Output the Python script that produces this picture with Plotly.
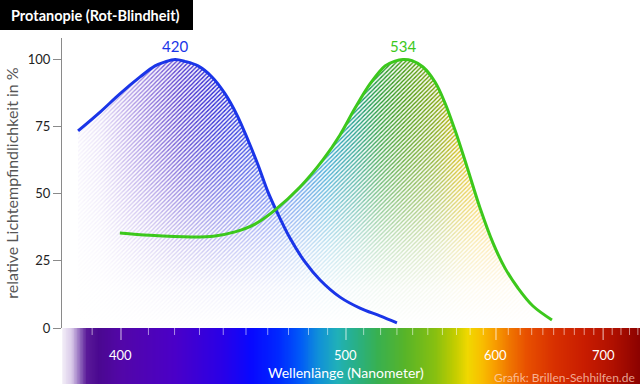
import plotly.graph_objects as go
import numpy as np

# ---- data (wavelength in nm, relative sensitivity in %) ----
blue_wl = [385.3, 392.7, 399.6, 406.9, 412.5, 416.3, 420.2, 424.1, 429.4, 435.2, 440.8, 446.0,
           450.9, 455.5, 460.1, 464.4, 470.7, 478.2, 486.0, 496.7, 507.9, 519.6, 530.0]
blue_val = [73.4, 80.4, 87.2, 93.5, 97.6, 99.1, 100.0, 99.3, 97.6, 93.5, 87.2, 79.3,
            70.0, 60.7, 50.7, 43.2, 33.5, 24.6, 17.9, 11.5, 7.4, 4.5, 1.9]
green_wl = [399.6, 410.6, 427.4, 436.5, 445.1, 454.1, 463.4, 475.7, 487.5, 496.7, 505.1, 513.7,
            522.7, 528.8, 533.8, 539.6, 546.8, 554.9, 561.8, 568.9, 577.7, 587.5, 597.6, 607.3,
            618.1, 631.1, 648.4]
green_val = [35.4, 34.5, 33.9, 34.3, 35.8, 38.7, 43.9, 52.5, 62.6, 71.9, 81.9, 90.9,
             97.6, 99.4, 100.0, 99.6, 97.2, 91.6, 83.8, 73.7, 60.0, 44.7, 31.7, 22.3,
             14.9, 8.2, 3.0]
peak_wl = [420, 534]
peak_text = ["420", "534"]
y_ticks = [0, 25, 50, 75, 100]
x_tick_labels = [400, 500, 600, 700]
x_minor = list(range(390, 750, 10))

title_text = "Protanopie (Rot-Blindheit)"
y_title = "relative Lichtempfindlichkeit in %"
x_title = "Wellenlänge (Nanometer)"
credit = "Grafik: Brillen-Sehhilfen.de"

# spectrum colours (style)
spec_stops = [(378, "#ffffff"), (380, "#f4f0f8"), (383, "#d8c8e8"), (386, "#8a60b8"), (388, "#5a1a98"),
              (392, "#4a0890"), (400, "#5206a8"), (420, "#4a00c8"), (440, "#2800e8"), (452, "#0808ff"),
              (465, "#0028ff"), (475, "#0058f8"), (485, "#1090d8"), (495, "#20b0b8"), (505, "#28b088"),
              (518, "#38b050"), (535, "#58b428"), (555, "#88c010"), (568, "#c0cc00"), (578, "#f0d800"),
              (588, "#f8c000"), (598, "#f8a000"), (610, "#f07800"), (625, "#e85000"), (650, "#d83000"),
              (680, "#c81c00"), (710, "#b01000"), (745, "#880000")]
fill_stops = [(380, "#6a38d0"), (400, "#5a28c8"), (420, "#4828c8"), (440, "#3030d8"), (460, "#2444e8"),
              (475, "#1c6ce0"), (490, "#1496c8"), (505, "#1c9c88"), (520, "#2c9c38"), (535, "#4c9c18"),
              (555, "#7ca410"), (570, "#c8b400"), (585, "#f0bc00"), (600, "#f8b400"), (620, "#f8c040"),
              (650, "#f8d060")]


def T(wl):
    # wavelength -> negative wavenumber (cm^-1): the axis is linear in wavenumber
    return -1e7 / np.asarray(wl, dtype=float)


x_lo, x_hi = 380.07, 742.6
fig = go.Figure()

# spectrum strip
spec_wl = np.arange(378, 746, 0.5)
lo, hi = spec_stops[0][0], spec_stops[-1][0]
spec_cs = [[(w - lo) / (hi - lo), c] for w, c in spec_stops]
fig.add_trace(go.Heatmap(x=T(spec_wl), y=[0, 1], z=[spec_wl, spec_wl], colorscale=spec_cs,
                         zmin=lo, zmax=hi, showscale=False, xaxis="x2", yaxis="y2", hoverinfo="skip",
                         zsmooth="best"))

# gradient fills
f0, f1 = T(fill_stops[0][0]), T(fill_stops[-1][0])
fill_cs = [[float((T(w) - f0) / (f1 - f0)), c] for w, c in fill_stops]
for wl, val in [(blue_wl, blue_val), (green_wl, green_val)]:
    fig.add_trace(go.Scatter(x=T(wl), y=val, mode="lines", line=dict(width=0, shape="spline"),
                             fill="tozeroy",
                             fillgradient=dict(type="horizontal", colorscale=fill_cs,
                                               start=float(f0), stop=float(f1)),
                             hoverinfo="skip", showlegend=False))

# white fades
fig.add_trace(go.Scatter(x=T([x_lo, x_hi]), y=[101, 101], mode="lines", line=dict(width=0),
                         fill="tozeroy",
                         fillgradient=dict(type="vertical", start=0, stop=101,
                                           colorscale=[[0, "rgba(255,255,255,1)"], [0.15, "rgba(255,255,255,0.93)"],
                                                       [0.3, "rgba(255,255,255,0.74)"], [0.45, "rgba(255,255,255,0.48)"],
                                                       [0.6, "rgba(255,255,255,0.24)"], [0.72, "rgba(255,255,255,0.1)"],
                                                       [0.85, "rgba(255,255,255,0)"], [1, "rgba(255,255,255,0)"]]),
                         hoverinfo="skip", showlegend=False))
fig.add_trace(go.Scatter(x=T([x_lo, 435]), y=[101, 101], mode="lines", line=dict(width=0),
                         fill="tozeroy",
                         fillgradient=dict(type="horizontal", start=float(T(x_lo)), stop=float(T(435)),
                                           colorscale=[[0, "rgba(255,255,255,1)"], [0.25, "rgba(255,255,255,0.85)"],
                                                       [0.55, "rgba(255,255,255,0.45)"], [0.8, "rgba(255,255,255,0.12)"],
                                                       [1, "rgba(255,255,255,0)"]]),
                         hoverinfo="skip", showlegend=False))
# hatching
fig.add_trace(go.Scatter(x=T([x_lo, x_hi]), y=[101, 101], mode="lines", line=dict(width=0),
                         fill="tozeroy", fillcolor="rgba(0,0,0,0)",
                         fillpattern=dict(shape="/", fgcolor="white", bgcolor="rgba(0,0,0,0)",
                                          size=3, solidity=0.5, fillmode="replace"),
                         hoverinfo="skip", showlegend=False))

# curves
fig.add_trace(go.Scatter(x=T(blue_wl), y=blue_val, mode="lines",
                         line=dict(color="#1a35e8", width=3, shape="spline"), showlegend=False))
fig.add_trace(go.Scatter(x=T(green_wl), y=green_val, mode="lines",
                         line=dict(color="#3cc81c", width=3, shape="spline"), showlegend=False))

FONT = "Lato"
ann = []
for w, t, c in zip(peak_wl, peak_text, ["#1a35e8", "#3cc81c"]):
    ann.append(dict(x=float(T(w)), y=101, xref="x", yref="y", text=t, showarrow=False,
                    yanchor="bottom", font=dict(size=15, color=c, family=FONT)))
for v in x_tick_labels:
    ann.append(dict(x=float(T(v)), y=0.52, xref="x2", yref="y2", text=str(v), showarrow=False,
                    font=dict(size=13, color="white", family=FONT)))
ann.append(dict(x=float(T(500)), y=0.21, xref="x2", yref="y2", text=x_title, showarrow=False,
                font=dict(size=14, color="white", family=FONT)))
ann.append(dict(x=1, xshift=-3, y=0.125, xref="paper", yref="y2", text=credit, showarrow=False,
                xanchor="right", align="right",
                font=dict(size=12, color="rgba(255,215,195,0.75)", family=FONT)))
ann.append(dict(x=9 / 640, y=1 - 15 / 384, xref="paper", yref="paper", text="<b>" + title_text + "</b>",
                showarrow=False, xanchor="left", yanchor="middle",
                font=dict(size=14.5, color="white", family=FONT)))

shapes = [dict(type="rect", xref="paper", yref="paper", x0=0, x1=193 / 640, y0=1 - 30 / 384, y1=1,
               fillcolor="black", line=dict(width=0), layer="below")]
for v in x_minor:
    major = v in x_tick_labels
    shapes.append(dict(type="line", xref="x2", yref="y2", x0=float(T(v)), x1=float(T(v)),
                       y0=1, y1=1 - (12 if major else 7) / 56,
                       line=dict(color="rgba(255,255,255,%s)" % (0.75 if major else 0.55), width=1),
                       layer="above"))

fig.update_layout(
    width=640, height=384, margin=dict(l=0, r=0, t=0, b=0, autoexpand=False),
    paper_bgcolor="white", plot_bgcolor="rgba(0,0,0,0)",
    font=dict(family=FONT),
    showlegend=False,
    xaxis=dict(domain=[62 / 640, 1], range=[float(T(x_lo)), float(T(x_hi))], visible=False, anchor="y",
               automargin=False),
    yaxis=dict(domain=[56 / 384, 346 / 384], range=[0, 108], tickvals=y_ticks, ticks="outside",
               ticklen=8, tickcolor="#8a8a8a", showline=True, linecolor="#8a8a8a", linewidth=1,
               showgrid=False, zeroline=False, tickfont=dict(size=13, color="#222"),
               title=dict(text=y_title, font=dict(size=16, color="#555"), standoff=5), anchor="x",
               automargin=False),
    xaxis2=dict(domain=[62 / 640, 1], range=[float(T(x_lo)), float(T(x_hi))], anchor="y2",
                visible=False, automargin=False),
    yaxis2=dict(domain=[0, 56 / 384], range=[0, 1], visible=False, anchor="x2", automargin=False),
    shapes=shapes,
    annotations=ann,
)

fig.write_html("out.html", config={"displayModeBar": False},
               post_script="document.body.style.margin='0';")
